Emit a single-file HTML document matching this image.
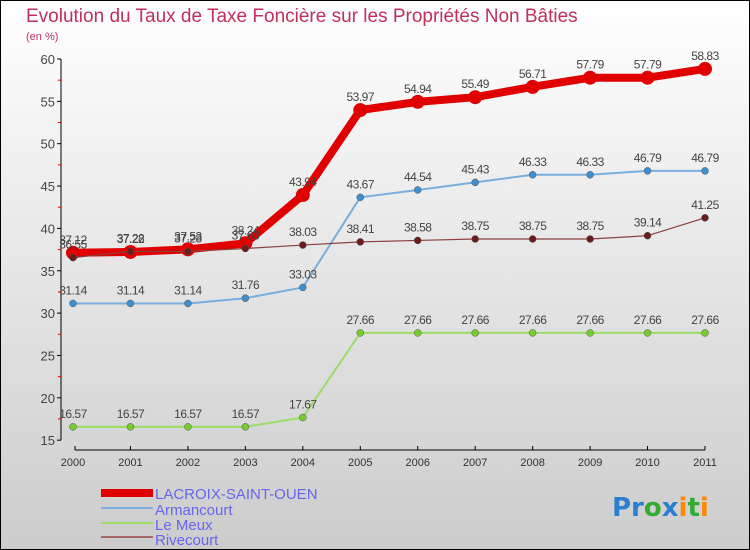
<!DOCTYPE html>
<html><head><meta charset="utf-8"><style>
body{margin:0}
svg{display:block;font-family:"Liberation Sans",sans-serif}
</style></head><body>
<svg id="chart" width="750" height="550" viewBox="0 0 750 550" xmlns="http://www.w3.org/2000/svg">
<defs><linearGradient id="bg" x1="0" y1="0" x2="0" y2="1"><stop offset="0" stop-color="#ffffff"/><stop offset="1" stop-color="#cccccc"/></linearGradient></defs>
<rect x="0.5" y="0.5" width="749" height="549" fill="url(#bg)" stroke="#000"/>
<text x="26" y="22" font-size="19" fill="#c0305a">Evolution du Taux de Taxe Foncière sur les Propriétés Non Bâties</text>
<text x="26" y="40" font-size="11" fill="#c0305a">(en %)</text>
<g id="axes"></g><g id="series"></g>
<g>
<rect x="101" y="489" width="52" height="8" fill="#e00000"/>
<line x1="101" y1="508" x2="153" y2="508" stroke="#7aaedc" stroke-width="2"/>
<line x1="101" y1="523" x2="153" y2="523" stroke="#99dd66" stroke-width="2"/>
<line x1="101" y1="537" x2="153" y2="537" stroke="#a06868" stroke-width="2"/>
<g font-size="15" fill="#6666ee">
<text x="155" y="499">LACROIX-SAINT-OUEN</text>
<text x="155" y="515">Armancourt</text>
<text x="155" y="530">Le Meux</text>
<text x="155" y="545">Rivecourt</text>
</g></g>
<g font-size="26" font-weight="bold" font-family="'DejaVu Sans',sans-serif">
<text x="612" y="516"><tspan fill="#2a7fd0">Pr</tspan><tspan fill="#33aa33">o</tspan><tspan fill="#2a7fd0">x</tspan><tspan fill="#ff8800">i</tspan><tspan fill="#33aa33">t</tspan><tspan fill="#ff8800">i</tspan></text>
</g>
</svg>
<script>
const years=["2000","2001","2002","2003","2004","2005","2006","2007","2008","2009","2010","2011"];
const lacroix=[37.12,37.22,37.53,38.24,43.94,53.97,54.94,55.49,56.71,57.79,57.79,58.83];
const armancourt=[31.14,31.14,31.14,31.76,33.03,43.67,44.54,45.43,46.33,46.33,46.79,46.79];
const lemeux=[16.57,16.57,16.57,16.57,17.67,27.66,27.66,27.66,27.66,27.66,27.66,27.66];
const rivecourt=[36.55,37.28,37.28,37.63,38.03,38.41,38.58,38.75,38.75,38.75,39.14,41.25];
const yTicks=[15,20,25,30,35,40,45,50,55,60];
const NS="http://www.w3.org/2000/svg";
const x=i=>73+i*(705-73)/11;
const y=v=>59+(60-v)*8.47;
function mk(tag,attrs,parent,txt){const e=document.createElementNS(NS,tag);for(const k in attrs)e.setAttribute(k,attrs[k]);if(txt!==undefined)e.textContent=txt;parent.appendChild(e);return e;}
const ax=document.getElementById('axes');
let e=mk('line',{x1:61,y1:y(60),x2:61,y2:y(15),stroke:'#000'},ax);


yTicks.forEach(t=>{mk('line',{x1:57,x2:61,y1:y(t),y2:y(t),stroke:'#000'},ax);
 if(t<60)mk('line',{x1:58,x2:61,y1:y(t+2.5),y2:y(t+2.5),stroke:'#e00'},ax);
 e=mk('text',{x:55,y:y(t)+5,'font-size':13,fill:'#444','text-anchor':'end'},ax,t);
 
 });
e=mk('line',{x1:x(0)+2,y1:450,x2:x(11),y2:450,stroke:'#000'},ax);


years.forEach((yr,i)=>{mk('line',{x1:x(i)+(i==0?2:0),x2:x(i)+(i==0?2:0),y1:446,y2:450,stroke:'#000'},ax);
 e=mk('text',{x:x(i),y:466,'font-size':11,fill:'#333','text-anchor':'middle'},ax,yr);
 
 });
const sg=document.getElementById('series');
function series(name,data,lc,lw,pc,r){
 const g=mk('g',{},sg);
 
 
 mk('polyline',{points:data.map((v,i)=>x(i)+','+y(v)).join(' '),fill:'none',stroke:lc,'stroke-width':lw,'stroke-linejoin':'round'},g);
 data.forEach((v,i)=>{const c=mk('circle',{cx:x(i),cy:y(v),r:r,fill:pc,stroke:lc==='#e00000'?'#e00000':'#555','stroke-width':lc==='#e00000'?0:0.5},g);
  
  
  const t=mk('text',{x:x(i),y:y(v)-9,'font-size':12,fill:'#444','text-anchor':'middle','letter-spacing':'-0.5'},g,v.toFixed(2));
  
  });
}
series('le-meux-series',lemeux,'#99dd66',2,'#77cc33',3.5);
series('armancourt-series',armancourt,'#7aaedc',2,'#3d8fd0',3.5);
series('lacroix-series',lacroix,'#e00000',8,'#e00000',7);
series('rivecourt-series',rivecourt,'#8b4040',1.2,'#6b1c1c',3.5);
</script>
</body></html>
